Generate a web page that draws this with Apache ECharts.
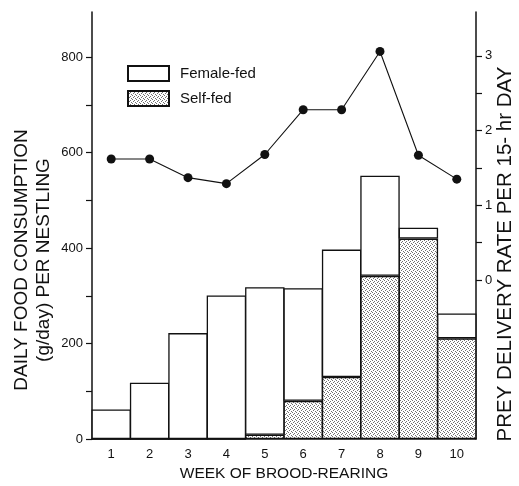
<!DOCTYPE html>
<html>
<head>
<meta charset="utf-8">
<script src="https://cdn.jsdelivr.net/npm/echarts@6/dist/echarts.min.js"></script>
<style>
  html, body { margin: 0; padding: 0; background: #fff; }
  #main { width: 519px; height: 486px; }
</style>
</head>
<body>
<div id="main"></div>
<script>
// weeks of brood-rearing
var weeks = ['1', '2', '3', '4', '5', '6', '7', '8', '9', '10'];
// daily food per nestling (g/day), stacked: self-fed at bottom, female-fed on top
var selfFed = [0, 0, 0, 0, 9, 80, 130, 342, 420, 211];
var femaleFed = [62, 118, 222, 301, 309, 236, 267, 210, 23, 52];
// prey delivery rate per 15-hr day (right axis)
var preyRate = [1.62, 1.62, 1.37, 1.29, 1.68, 2.28, 2.28, 3.06, 1.67, 1.35];
// tick labels
var leftLabels = [0, 200, 400, 600, 800];
var leftTicks = [0, 100, 200, 300, 400, 500, 600, 700, 800];
var rightLabels = [0, 1, 2, 3];
var rightTicks = [0, 0.5, 1, 1.5, 2, 2.5, 3];

// stipple fill for the self-fed part
function stipple() {
  var c = document.createElement('canvas');
  c.width = 4; c.height = 4;
  var ctx = c.getContext('2d');
  ctx.fillStyle = '#fff';
  ctx.fillRect(0, 0, 4, 4);
  ctx.fillStyle = '#707070';
  ctx.fillRect(0, 0, 1, 1);
  ctx.fillRect(2, 1, 1, 1);
  ctx.fillRect(1, 2, 1, 1);
  ctx.fillRect(3, 3, 1, 1);
  return c;
}

var font = 'Liberation Sans, Arial, sans-serif';
var ink = '#111';

var option = {
  animation: false,
  backgroundColor: '#fff',
  grid: { left: 92, right: 43, top: 12, bottom: 47 },
  legend: {
    orient: 'vertical',
    left: 127,
    top: 65,
    padding: 0,
    itemWidth: 41,
    itemHeight: 15,
    itemGap: 8,
    icon: 'rect',
    data: ['Female-fed', 'Self-fed'],
    textStyle: { fontFamily: font, fontSize: 15, color: ink, padding: [0, 0, 0, 6] }
  },
  xAxis: {
    type: 'category',
    data: weeks,
    axisLine: { lineStyle: { color: ink, width: 1.5 } },
    axisTick: { length: 5, lineStyle: { color: ink, width: 1.2 } },
    axisLabel: { fontFamily: font, fontSize: 13, color: ink, margin: 9 }
  },
  yAxis: [
    {
      type: 'value',
      min: 0,
      max: 895,
      splitLine: { show: false },
      axisLine: { show: true, lineStyle: { color: ink, width: 1.5 } },
      axisTick: { show: true, length: 6, customValues: leftTicks, lineStyle: { color: ink, width: 1.2 } },
      axisLabel: { fontFamily: font, fontSize: 13, color: ink, margin: 9, customValues: leftLabels }
    },
    {
      type: 'value',
      position: 'right',
      min: -2.129,
      max: 3.588,
      splitLine: { show: false },
      axisLine: { show: true, lineStyle: { color: ink, width: 1.5 } },
      axisTick: { show: true, length: 6, customValues: rightTicks, lineStyle: { color: ink, width: 1.2 } },
      axisLabel: { fontFamily: font, fontSize: 13, color: ink, margin: 9, customValues: rightLabels }
    }
  ],
  series: [
    {
      name: 'Self-fed',
      type: 'bar',
      stack: 'food',
      barWidth: 39.4,
      data: selfFed,
      itemStyle: { color: { image: stipple(), repeat: 'repeat' }, borderColor: ink, borderWidth: 1.3 }
    },
    {
      name: 'Female-fed',
      type: 'bar',
      stack: 'food',
      barWidth: 39.4,
      data: femaleFed,
      itemStyle: { color: '#fff', borderColor: ink, borderWidth: 1.3 }
    },
    {
      name: 'Prey delivery',
      type: 'line',
      yAxisIndex: 1,
      z: 5,
      data: preyRate,
      symbol: 'circle',
      symbolSize: 9,
      lineStyle: { color: ink, width: 1.1 },
      itemStyle: { color: ink }
    }
  ],
  graphic: [
    {
      type: 'text', x: 33, y: 260, rotation: Math.PI / 2,
      style: {
        text: 'DAILY FOOD CONSUMPTION\n(g/day) PER NESTLING',
        fontFamily: font, fontSize: 19, lineHeight: 22, fill: ink,
        align: 'center', verticalAlign: 'middle'
      }
    },
    {
      type: 'text', x: 505, y: 254, rotation: Math.PI / 2,
      style: {
        text: 'PREY DELIVERY RATE PER 15- hr DAY',
        fontFamily: font, fontSize: 20.5, fill: ink,
        align: 'center', verticalAlign: 'middle'
      }
    },
    {
      type: 'text', x: 284, y: 474,
      style: {
        text: 'WEEK OF BROOD-REARING',
        fontFamily: font, fontSize: 15.5, fill: ink,
        align: 'center', verticalAlign: 'middle'
      }
    }
  ]
};

var myChart = echarts.init(document.getElementById('main'));
myChart.setOption(option);
</script>
</body>
</html>
